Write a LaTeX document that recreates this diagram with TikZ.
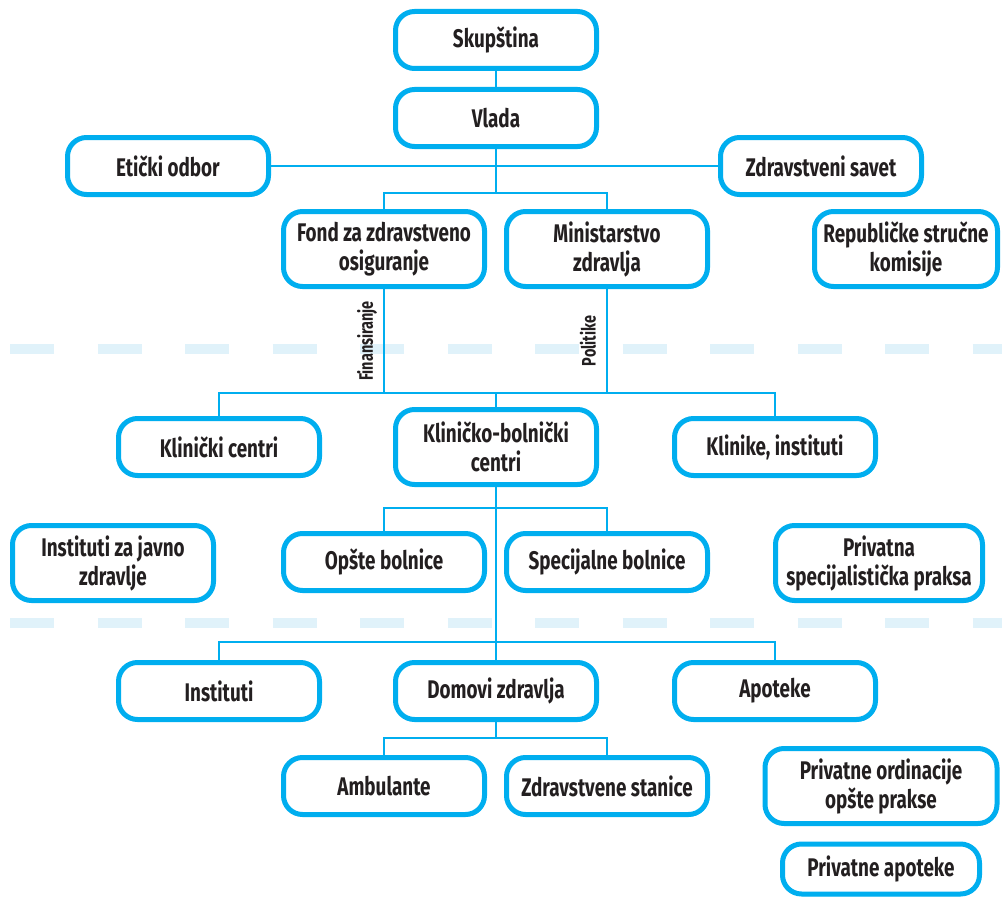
\documentclass[tikz,border=0pt]{standalone}
\usepackage{fontspec}
\setmainfont{Fira Sans}[FakeStretch=0.74]
\usetikzlibrary{shadows}
\definecolor{skyline}{RGB}{0,174,239}
\definecolor{sepblue}{RGB}{224,242,250}
\definecolor{ink}{RGB}{35,31,32}

\begin{document}
\begin{tikzpicture}[x=1pt, y=-1pt,
  bx/.style={draw=skyline, line width=5pt, rounded corners=19pt, fill=white, text=ink,
    font=\fontsize{25.5}{29}\selectfont\bfseries, align=center, inner sep=2pt,
    minimum width=201pt, minimum height=57pt,
    drop shadow={shadow xshift=1pt, shadow yshift=-2pt, fill=skyline, opacity=1}},
  tl/.style={bx, minimum height=75pt},
  ln/.style={draw=skyline, line width=2pt},
  sep/.style={draw=sepblue, line width=10pt, dash pattern=on 44pt off 43.5pt},
  lbl/.style={rotate=90, text=ink, font=\fontsize{19.5}{21}\selectfont\bfseries, inner sep=1pt},
]
  \useasboundingbox (0,0) rectangle (1002,899);
  % Separators
  \draw[sep] (10,349) -- (1002,349);
  \draw[sep] (10,623) -- (1002,623);
  % Nodes
  \node[bx] (skup) at (496,40)  {Skupština};
  \node[bx] (vlada) at (496,118) {Vlada};
  \node[bx] (etic) at (168,166) {Etički odbor};
  \node[bx] (zsav) at (821,166) {Zdravstveni savet};
  \node[tl] (fond) at (384,249) {Fond za zdravstveno\\osiguranje};
  \node[tl] (mzdr) at (607,249) {Ministarstvo\\zdravlja};
  \node[tl, minimum width=183pt] (rsk) at (906,249) {Republičke stručne\\komisije};
  \node[bx] (klc) at (219,447) {Klinički centri};
  \node[tl] (kbc) at (496,447) {Kliničko-bolnički\\centri};
  \node[bx] (kli) at (775,447) {Klinike, instituti};
  \node[tl] (izjz) at (113,563) {Instituti za javno\\zdravlje};
  \node[bx] (opb) at (384,562) {Opšte bolnice};
  \node[bx] (spb) at (607,562) {Specijalne bolnice};
  \node[tl, minimum width=207pt] (psp) at (879,563) {Privatna\\specijalistička praksa};
  \node[bx] (inst) at (219,691) {Instituti};
  \node[bx] (dom) at (496,691) {Domovi zdravlja};
  \node[bx] (apo) at (775,691) {Apoteke};
  \node[bx] (amb) at (384,786) {Ambulante};
  \node[bx] (zst) at (607,786) {Zdravstvene stanice};
  \node[tl, minimum width=232pt] (por) at (881,786) {Privatne ordinacije\\opšte prakse};
  \node[bx, minimum width=197pt, minimum height=50pt] (pap) at (881,869) {Privatne apoteke};
  % Branch points
  \coordinate (b1) at (496,193);
  \coordinate (b2) at (496,393);
  \coordinate (b3) at (496,508);
  \coordinate (b4) at (496,642);
  \coordinate (b5) at (496,738);
  % Edges
  \draw[ln] (skup) -- (vlada);
  \draw[ln] (etic) -- (zsav);
  \draw[ln] (vlada) -- (b1);
  \draw[ln] (fond.north) |- (b1) -| (mzdr.north);
  \draw[ln] (fond.south) -- (fond.south |- b2);
  \draw[ln] (mzdr.south) -- (mzdr.south |- b2);
  \draw[ln] (klc.north) |- (b2) -| (kli.north);
  \draw[ln] (b2) -- (kbc);
  \draw[ln] (kbc.south) -- (b4);
  \draw[ln] (opb.north) |- (b3) -| (spb.north);
  \draw[ln] (inst.north) |- (b4) -| (apo.north);
  \draw[ln] (b4) -- (dom);
  \draw[ln] (dom.south) -- (b5);
  \draw[ln] (amb.north) |- (b5) -| (zst.north);
  % Labels
  \node[lbl] (fin) at (367,341) {Finansiranje};
  \node[lbl] (pol) at (588,341) {Politike};
\end{tikzpicture}
\end{document}
